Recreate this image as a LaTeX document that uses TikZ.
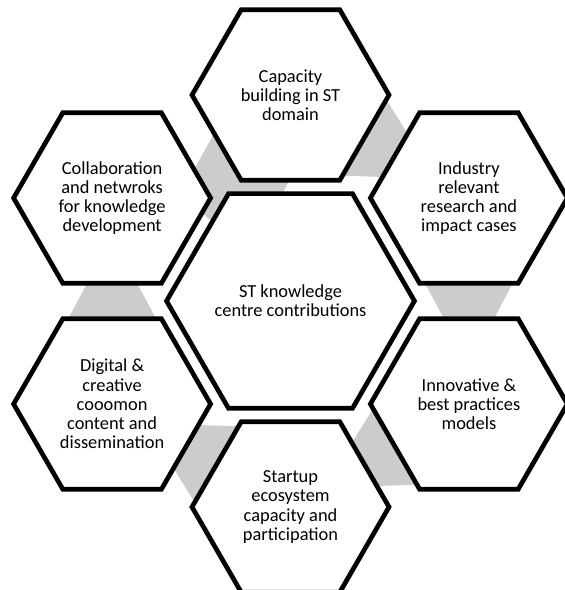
\documentclass[tikz,border=0pt]{standalone}
\usepackage{fontspec}
\setmainfont{Carlito}
\usetikzlibrary{shapes.geometric}
\usetikzlibrary{calc}
\usetikzlibrary{backgrounds}

\definecolor{linkgray}{HTML}{CCCCCC}
\tikzset{
	hexcell/.style={draw=black, line width=4pt, fill=white, shape=regular polygon, regular polygon sides=6,
		minimum size=5.91cm, inner sep=0pt, align=center, font=\fontsize{15.7}{16.4}\selectfont},
	hexcore/.style={hexcell, minimum size=7.2cm},
	linkfill/.style={fill=linkgray}
}
% tapered band from one outer cell to the next, wide end at the first one
\newcommand{\hexlink}[2]{%
	\path ($(#1)!0.35!(#2)$) coordinate (lw) ($(#1)!0.64!(#2)$) coordinate (ln);
	\fill[linkfill] ($(lw)!1.53cm!90:(#2)$) -- ($(ln)!0.57cm!90:(#2)$)
		-- ($(ln)!0.57cm!-90:(#2)$) -- ($(lw)!1.53cm!-90:(#2)$) -- cycle;}

\begin{document}
\begin{tikzpicture}[x=0.03cm, y=0.03cm]
	\pgfmathsetmacro{\ringr}{206}
	\useasboundingbox (0,0) rectangle (565,590);
	\node[hexcore] (core) at (290.5,289) {ST knowledge\\centre contributions};
	\node[hexcell] (cap) at ($(core)+(90:\ringr)$) {Capacity\\building in ST\\domain};
	\node[hexcell] (ind) at ($(core)+(30:\ringr)$) {Industry\\relevant\\research and\\impact cases};
	\node[hexcell] (inn) at ($(core)+(-30:\ringr)$) {Innovative \&\\best practices\\models};
	\node[hexcell] (sta) at ($(core)+(-90:\ringr)$) {Startup\\ecosystem\\capacity and\\participation};
	\node[hexcell] (dig) at ($(core)+(210:\ringr)$) {Digital \&\\creative\\cooomon\\content and\\dissemination};
	\node[hexcell] (col) at ($(core)+(150:\ringr)$) {Collaboration\\and netwroks\\for knowledge\\development};
	\begin{scope}[on background layer]
		\hexlink{cap}{ind}
		\hexlink{ind}{inn}
		\hexlink{inn}{sta}
		\hexlink{sta}{dig}
		\hexlink{dig}{col}
		% the last band is wider and runs on under the top cell
		\fill[linkfill] (185,404) -- (222,471) -- (300,433) -- (276,382) -- (228,374) -- (212,368) -- (188,390) -- cycle;
	\end{scope}
\end{tikzpicture}
\end{document}
